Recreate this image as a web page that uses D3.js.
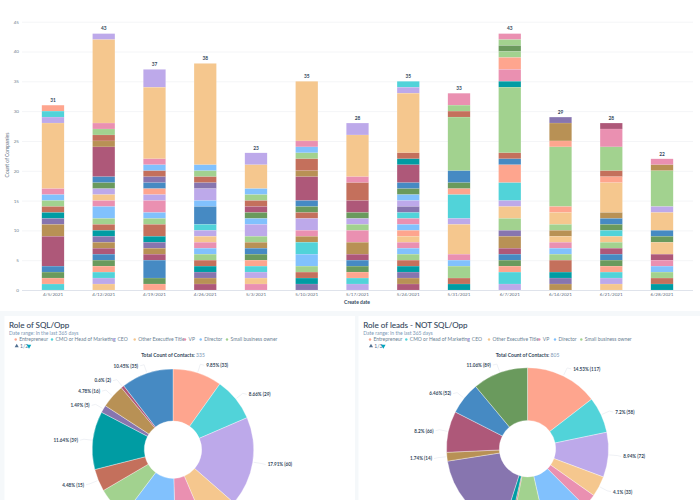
<!DOCTYPE html>
<html><head><meta charset="utf-8">
<script src="https://cdn.jsdelivr.net/npm/d3@7"></script>
<style>
html,body{margin:0;padding:0;background:#fff;overflow:hidden}
svg{display:block}
text{font-family:Lato,"Open Sans",sans-serif}
.domain{display:none}
</style></head><body><svg id="c" width="700" height="500"></svg>
<script>
const roleKeys = ["a","b","c","d","e","f","g","h","i","j","k","l","m","n"];
const roleColors = ["#FEA58E","#51D3D9","#BDA9EA","#F5C78E","#EA90B1","#81C1FD","#A2D28F","#C4705C","#009CA3","#8775AF","#B89155","#AE5879","#468AC3","#6A9A5D"];
const dates = ["4/5/2021","4/12/2021","4/19/2021","4/26/2021","5/3/2021","5/10/2021","5/17/2021","5/24/2021","5/31/2021","6/7/2021","6/14/2021","6/21/2021","6/28/2021"];
const yTicks = [0,5,10,15,20,25,30,35,40,45];

const w0405 = [["a",1],["b",1],["c",1],["d",11],["e",1],["f",1],["g",1],["h",1],["i",1],["j",1],["k",2],["l",5],["m",1],["n",1],["a",1],["b",1]];
const w0412 = [["c",1],["d",14],["e",1],["g",1],["h",1],["k",1],["l",5],["m",1],["n",1],["c",1],["d",1],["e",1],["f",2],["g",1],["h",1],["i",1],["j",1],["k",1],["l",1],["m",1],["n",1],["a",1],["b",1],["c",1],["d",1]];
const w0419 = [["c",3],["d",12],["e",1],["f",1],["h",1],["j",1],["m",1],["a",1],["c",1],["e",2],["f",1],["g",1],["h",2],["i",1],["j",1],["k",1],["l",1],["m",3],["n",1],["a",1]];
const w0426 = [["d",17],["f",1],["g",1],["h",1],["j",1],["c",2],["f",1],["m",3],["b",1],["c",1],["d",1],["e",1],["f",1],["g",1],["h",1],["i",1],["j",1],["k",1],["l",1]];
const w0503 = [["c",2],["d",4],["f",1],["g",1],["h",1],["l",1],["n",1],["f",1],["c",2],["g",1],["k",1],["m",1],["n",1],["a",1],["b",1],["c",1],["d",1],["e",1]];
const w0510 = [["d",10],["e",1],["f",1],["g",1],["h",2],["k",1],["l",4],["m",1],["n",1],["h",1],["c",2],["e",1],["k",1],["b",2],["f",2],["g",1],["h",1],["i",1],["j",1]];
const w0517 = [["c",2],["d",7],["e",1],["h",3],["l",2],["n",1],["c",1],["g",1],["e",2],["k",2],["l",1],["m",1],["n",1],["a",1],["b",1],["c",1]];
const w0524 = [["b",1],["c",1],["d",10],["h",1],["i",1],["l",3],["m",1],["n",1],["f",1],["c",1],["j",1],["b",1],["e",1],["f",1],["a",1],["d",1],["e",1],["f",1],["g",1],["h",1],["i",1],["j",1],["k",1],["l",1]];
const w0531 = [["e",2],["g",1],["h",1],["g",9],["m",2],["n",1],["a",1],["b",4],["c",1],["d",5],["e",1],["f",1],["g",2],["h",1],["i",1]];
const w0607 = [["e",1],["g",1],["n",1],["g",1],["a",2],["e",2],["i",1],["g",11],["h",1],["m",1],["a",3],["b",3],["c",1],["d",2],["g",2],["j",1],["k",2],["l",1],["m",1],["n",1],["a",1],["b",2],["c",1]];
const w0614 = [["j",1],["k",3],["a",1],["g",10],["a",1],["d",2],["g",1],["k",1],["d",1],["e",1],["f",1],["g",1],["h",2],["i",1],["j",1],["k",1]];
const w0621 = [["l",1],["e",3],["g",4],["h",1],["a",1],["d",5],["k",1],["m",1],["n",1],["b",1],["d",1],["g",1],["l",1],["m",1],["n",1],["a",1],["b",1],["c",1],["d",1]];
const w0628 = [["e",1],["k",1],["g",6],["c",1],["d",3],["m",1],["n",1],["d",2],["l",1],["e",1],["f",1],["g",1],["h",1],["i",1]];
const weeks = [w0405,w0412,w0419,w0426,w0503,w0510,w0517,w0524,w0531,w0607,w0614,w0621,w0628];

const legendNames = ["Entrepreneur","CMO or Head of Marketing","CEO","Other Executive Title","VP","Director","Small business owner"];
const pieKeys = ["a","b","c","d","e","f","g","h","i","j","k","l","m","n"];
const pieSql = [33,29,60,24,20,36,21,15,39,5,16,2,35,0];
const pieLeads = [117,58,72,33,22,72,54,3,11,142,14,66,52,89];

const svg = d3.select("#c");
const color = d3.scaleOrdinal(roleKeys, roleColors);

// page background and panels
svg.append("rect").attr("x",0).attr("y",311).attr("width",700).attr("height",189).attr("fill","#f5f8fa");
svg.append("rect").attr("x",4.5).attr("y",316).attr("width",350.5).attr("height",184).attr("fill","#fff");
svg.append("rect").attr("x",358.5).attr("y",316).attr("width",341.5).attr("height",184).attr("fill","#fff");

// stacked bars
const x = d3.scaleBand(dates,[27.6,687.4]).paddingInner(0.56).paddingOuter(0.28);
const y = d3.scaleLinear([0,45],[290,21.7]);

const gy = svg.append("g").attr("transform","translate(22,0)")
  .call(d3.axisLeft(y).tickValues(yTicks).tickSize(-671).tickPadding(3));
gy.selectAll("line").attr("stroke","#f4f5f7");
gy.selectAll("text").attr("fill","#6f7f90").attr("font-size",4.6);
gy.select(".tick line").attr("stroke","#dfe3eb").attr("stroke-width",1);

const gx = svg.append("g").attr("transform","translate(0,290)")
  .call(d3.axisBottom(x).tickSize(0).tickPadding(3));
gx.selectAll("text").attr("fill","#5f6f80").attr("font-size",4.6);

weeks.forEach((segs,wi)=>{
  let top = d3.sum(segs,d=>d[1]);
  const total = top;
  const g = svg.append("g");
  segs.forEach(([k,v])=>{
    const y1 = top, y0 = top - v;
    g.append("rect").attr("x",x(dates[wi])).attr("width",x.bandwidth())
      .attr("y",y(y1)).attr("height",y(y0)-y(y1))
      .attr("fill",color(k)).attr("stroke","#fff").attr("stroke-opacity",0.3).attr("stroke-width",0.3);
    top = y0;
  });
  svg.append("text").attr("x",x(dates[wi])+x.bandwidth()/2).attr("y",y(total)-3.2)
    .attr("text-anchor","middle").attr("font-size",4.8).attr("font-weight",700).attr("fill","#33475b").text(total);
});

svg.append("text").attr("transform","translate(8.5,155) rotate(-90)").attr("text-anchor","middle")
  .attr("font-size",5).attr("fill","#5f6f80").text("Count of Companies");
svg.append("text").attr("x",357).attr("y",304).attr("text-anchor","middle")
  .attr("font-size",5).attr("font-weight",700).attr("fill","#33475b").text("Create date");

// pie panels
function panel(dx, title, filterText, values, cx, cy, r, r0, totalX){
  svg.append("text").attr("x",dx+9).attr("y",327.5).attr("font-size",8).attr("fill","#33475b").attr("stroke","#33475b").attr("stroke-width",0.1).text(title);
  svg.append("text").attr("x",dx+9).attr("y",334.5).attr("font-size",5).attr("fill","#7c98b6").text("Date range: In the last 365 days");
  const dots = [15.7,52,114,134.7,185,200.7,227];
  legendNames.forEach((n,i)=>{
    svg.append("circle").attr("cx",dx+dots[i]).attr("cy",339.5).attr("r",1.2).attr("fill",roleColors[i]);
    svg.append("text").attr("x",dx+dots[i]+3.5).attr("y",341.3).attr("font-size",5).attr("fill","#6b7f94").text(n);
  });
  svg.append("path").attr("d",d3.symbol(d3.symbolTriangle,7)).attr("transform",`translate(${dx+16.7},346)`).attr("fill","#516f90");
  svg.append("text").attr("x",dx+20).attr("y",348).attr("font-size",5).attr("fill","#516f90").text(filterText);
  svg.append("path").attr("d",d3.symbol(d3.symbolTriangle,9)).attr("transform",`translate(${dx+29},346) rotate(180)`).attr("fill","#00a4bd");
  const total = d3.sum(values);
  const t = svg.append("text").attr("x",totalX).attr("y",356.8).attr("text-anchor","middle").attr("font-size",5).attr("fill","#33475b");
  t.append("tspan").attr("font-weight",700).text("Total Count of Contacts: ");
  t.append("tspan").attr("fill","#7c98b6").text(total);

  const pie = d3.pie().sort(null).value(d=>d)(values);
  const arc = d3.arc().innerRadius(r0).outerRadius(r);
  const g = svg.append("g").attr("transform",`translate(${cx},${cy})`);
  pie.forEach((p,i)=>{
    if(!p.value) return;
    g.append("path").attr("d",arc(p)).attr("fill",color(pieKeys[i])).attr("stroke","#fff").attr("stroke-opacity",0.7).attr("stroke-width",0.5);
    const a=(p.startAngle+p.endAngle)/2, sx=Math.sin(a), sy=-Math.cos(a);
    const side = sx>=0?1:-1;
    const r1=r+9;
    svg.append("path").attr("d",d3.line()([[cx+sx*(r+1),cy+sy*(r+1)],[cx+sx*r1,cy+sy*r1],[cx+sx*r1+side*4,cy+sy*r1+1]]))
      .attr("fill","none").attr("stroke","#dfe3eb").attr("stroke-width",0.5);
    const pct = +(p.value/total*100).toFixed(2);
    const ly = cy+sy*r1+2.8;
    // labels of the lower slices fall below the photographed area, as in the reference
    if(ly>495) return;
    svg.append("text").attr("x",cx+sx*r1+side*6).attr("y",ly)
      .attr("text-anchor",side>0?"start":"end").attr("font-size",4.6).attr("font-weight",700).attr("fill","#33475b")
      .text(`${pct}% (${p.value})`);
  });
}
panel(0,"Role of SQL/Opp","1/2",pieSql,173,449.7,80.7,28.7,173);
panel(354.3,"Role of leads - NOT SQL/Opp","1/3",pieLeads,527.5,448.7,81,28.2,527.5);
</script></body></html>
